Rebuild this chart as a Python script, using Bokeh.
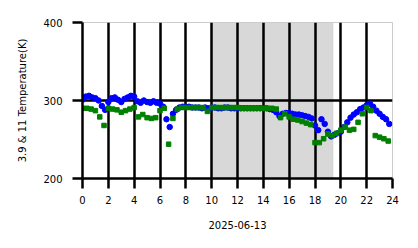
import numpy as np
from bokeh.plotting import figure
from bokeh.models import BoxAnnotation, FixedTicker
from bokeh.embed import file_html
from bokeh.resources import INLINE

# 3.9 um brightness temperature (K), every 15 minutes
blue_hours = [i * 0.25 for i in range(96)]
blue_temp = [
    301, 305, 306, 304, 303, 300, 293, 288,
    298, 303, 304, 301, 298, 302, 304, 306,
    305, 299, 297, 300, 298, 297, 299, 297,
    296, 292, 276, 266, 283, 288, 291, 292,
    292, 292, 291, 291, 291, 290, 291, 290,
    291, 291, 290, 290, 291, 291, 290, 290,
    290, 290, 290, 290, 290, 290, 290, 290,
    290, 290, 289, 288, 285, 280, 283, 284,
    284, 283, 282, 282, 281, 280, 279, 277,
    268, 262, 276, 270, 260, 254, 256, 258,
    260, 266, 272, 278, 282, 285, 289, 291,
    294, 296, 292, 287, 283, 279, 276, 270,
]

# 11 um brightness temperature (K), every 20 minutes
green_hours = [i / 3 for i in range(72)]
green_temp = [
    290, 290, 289,
    287, 279, 268,
    290, 289, 288,
    285, 287, 289,
    291, 279, 282,
    278, 277, 278,
    287, 290, 244,
    277, 289, 291,
    291, 291, 291,
    291, 291, 286,
    291, 291, 291,
    291, 291, 291,
    291, 290, 290,
    290, 290, 290,
    290, 290, 290,
    289, 278, 283,
    279, 276, 275,
    273, 271, 269,
    246, 246, 251,
    257, 255, 258,
    262, 266, 262,
    263, 272, 283,
    291, 287, 255,
    253, 251, 248,
]

x_ticks = list(range(0, 25, 2))
y_ticks = [200, 300, 400]
shade_start, shade_end = 10, 19.4
x_label = "2025-06-13"
y_label = "3.9 & 11 Temperature(K)"

p = figure(width=418, height=248, output_backend="svg", toolbar_location=None,
           x_range=(0, 24), y_range=(200, 400),
           min_border_left=82, min_border_right=26, min_border_top=22, min_border_bottom=70)

p.add_layout(BoxAnnotation(left=shade_start, right=shade_end, fill_color="#d8d8d8", fill_alpha=1,
                           line_color="#bdbdbd", line_width=1, level="image"))

p.scatter(blue_hours, blue_temp, marker="circle", size=5.5, color="#0000ff", line_color="#0000ff")
p.scatter(green_hours, green_temp, marker="square", size=4.5, color="#008000", line_color="#008000")

p.xaxis.ticker = FixedTicker(ticks=x_ticks)
p.yaxis.ticker = FixedTicker(ticks=y_ticks)
p.xaxis.minor_tick_line_color = None
p.yaxis.minor_tick_line_color = None
for ax in (p.xaxis, p.yaxis):
    ax.major_tick_out = 10
    ax.major_tick_in = 0
    ax.major_tick_line_width = 2.5
    ax.major_tick_line_color = "black"
    ax.axis_line_width = 2.5
    ax.axis_line_color = "black"
    ax.major_label_text_font = "DejaVu Sans"
    ax.major_label_text_font_size = "10px"
    ax.major_label_text_color = "black"
    ax.axis_label_text_font = "DejaVu Sans"
    ax.axis_label_text_font_size = "10px"
    ax.axis_label_text_font_style = "normal"
    ax.axis_label_text_color = "black"
p.xaxis.axis_label = x_label
p.yaxis.axis_label = y_label
p.xaxis.major_label_standoff = 7
p.yaxis.major_label_standoff = 10
p.xaxis.axis_label_standoff = 14
p.yaxis.axis_label_standoff = 12

p.xgrid.ticker = FixedTicker(ticks=x_ticks)
p.ygrid.ticker = FixedTicker(ticks=y_ticks)
for g in (p.xgrid, p.ygrid):
    g.grid_line_color = "black"
    g.grid_line_width = 2.5
    g.grid_line_alpha = 1
p.outline_line_color = "#cccccc"
p.background_fill_color = "white"
p.border_fill_color = "white"

open("out.html", "w").write(file_html(p, INLINE))
